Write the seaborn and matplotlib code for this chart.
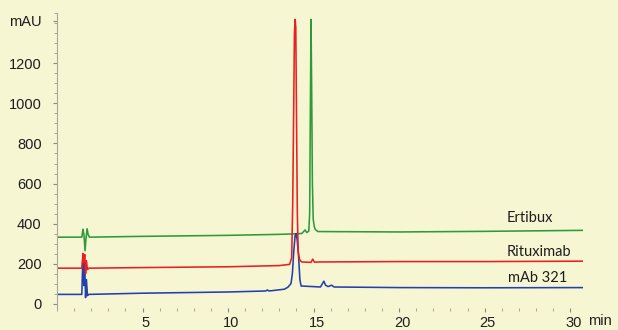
import numpy as np
import pandas as pd
import matplotlib
matplotlib.use("Agg")
import matplotlib.pyplot as plt
import matplotlib.transforms as mtransforms
import seaborn as sns
from matplotlib.ticker import MultipleLocator

# ---- data ----
green_t = [0, 1.45, 1.52, 1.58, 1.64, 1.70, 1.76, 1.82, 1.90, 5, 10, 13, 14.3, 14.4, 14.5,
           14.6, 14.72, 14.77, 14.81, 14.85, 14.89, 14.93, 14.98, 15.04, 15.10, 15.25, 20, 25, 30.75]
green_v = [332, 332, 372, 340, 264, 330, 374, 345, 332, 336, 341, 346, 350, 358, 368,
           355, 362, 450, 950, 1420, 1050, 600, 420, 385, 370, 360, 358, 361, 366]

red_t = [0, 1.45, 1.52, 1.57, 1.62, 1.67, 1.72, 1.78, 1.85, 5, 10, 13, 13.6, 13.72, 13.78,
         13.84, 13.88, 13.92, 13.96, 14.00, 14.05, 14.10, 14.18, 14.3, 14.85, 14.95, 15.05,
         15.3, 20, 25, 30.75]
red_v = [177, 177, 250, 205, 245, 150, 215, 170, 177, 180, 184, 190, 196, 230, 500,
         1000, 1350, 1420, 1380, 950, 450, 260, 220, 208, 206, 222, 207,
         208, 210, 210, 212]

blue_t = [0, 1.45, 1.52, 1.57, 1.62, 1.67, 1.72, 1.78, 1.85, 5, 10, 12.2, 12.3, 12.4, 13.3,
          13.5, 13.68, 13.76, 13.84, 13.92, 13.98, 14.04, 14.12, 14.2, 14.27, 15.4, 15.52,
          15.6, 15.7, 15.85, 16.05, 16.2, 20, 25, 30.75]
blue_v = [46, 46, 250, 90, 200, 30, 120, 40, 46, 52, 58, 63, 68, 63, 72,
          82, 100, 150, 260, 340, 350, 320, 240, 120, 88, 83, 100,
          112, 92, 85, 92, 83, 80, 79, 80]

samples = ["Ertibux", "Rituximab", "mAb 321"]
colors = {"Ertibux": "#2f9a3c", "Rituximab": "#ea1f22", "mAb 321": "#2340ad"}
x_ticks = [5, 10, 15, 20, 25, 30]
y_ticks = [0, 200, 400, 600, 800, 1000, 1200, 1414]
y_tick_labels = ["0", "200", "400", "600", "800", "1000", "1200", "mAU"]

df = pd.concat([
    pd.DataFrame({"time": green_t, "mAU": green_v, "sample": "Ertibux"}),
    pd.DataFrame({"time": red_t, "mAU": red_v, "sample": "Rituximab"}),
    pd.DataFrame({"time": blue_t, "mAU": blue_v, "sample": "mAb 321"}),
], ignore_index=True)

sns.set_style("white")
plt.rcParams["font.family"] = ["Liberation Sans", "DejaVu Sans"]

bg = "#f6f6d3"
fig = plt.figure(figsize=(6.18, 3.30), dpi=100, facecolor=bg)
ax = fig.add_axes([57/618, 22/330, (583-57)/618, (308-13)/330])
ax.set_facecolor(bg)

sns.lineplot(data=df, x="time", y="mAU", hue="sample",
             hue_order=["Ertibux", "mAb 321", "Rituximab"],
             palette=colors, sort=False, estimator=None, legend=False,
             linewidth=1.15, ax=ax)

ax.set_xlim(0, 30.75)
ax.set_ylim(-22, 1452)
ax.set_xlabel("")
ax.set_ylabel("")

ax.set_xticks(x_ticks)
ax.set_xticklabels([str(t) for t in x_ticks])
ax.xaxis.set_minor_locator(MultipleLocator(1))
ax.set_yticks(y_ticks)
ax.set_yticklabels(y_tick_labels)
ax.yaxis.set_minor_locator(MultipleLocator(50))

for s in ["top", "right", "bottom"]:
    ax.spines[s].set_visible(False)
ax.spines["left"].set_color("#a8a8a0")
ax.spines["left"].set_linewidth(0.8)

ax.tick_params(axis="both", which="major", direction="out", length=3, width=0.8,
               color="#8a8a85", labelsize=10.5, labelcolor="#1e1e1e")
ax.tick_params(axis="both", which="minor", direction="out", length=2, width=0.6,
               color="#9a9a95")
ax.tick_params(axis="y", which="major", pad=8)
ax.tick_params(axis="x", which="major", pad=3)
ax.tick_params(axis="both", which="both", bottom=True, left=True)

# x tick labels sit slightly right of their ticks in the reference
offset = mtransforms.ScaledTranslation(3/100, 0, fig.dpi_scale_trans)
for lbl in ax.get_xticklabels():
    lbl.set_transform(lbl.get_transform() + offset)

label_font = ["Lato", "DejaVu Sans"]
ax.text(26.26, 426, "Ertibux", ha="left", va="center", fontsize=10.5,
        color="#1e1e1e", family=label_font)
ax.text(26.26, 256, "Rituximab", ha="left", va="center", fontsize=10.5,
        color="#1e1e1e", family=label_font)
ax.text(26.37, 126, "mAb 321", ha="left", va="center", fontsize=10.5,
        color="#1e1e1e", family=label_font)

fig.text(588/618, 1 - 321/330, "min", ha="left", va="center", fontsize=10.5,
         color="#1e1e1e")

fig.savefig("out.png", dpi=100, facecolor=bg)
